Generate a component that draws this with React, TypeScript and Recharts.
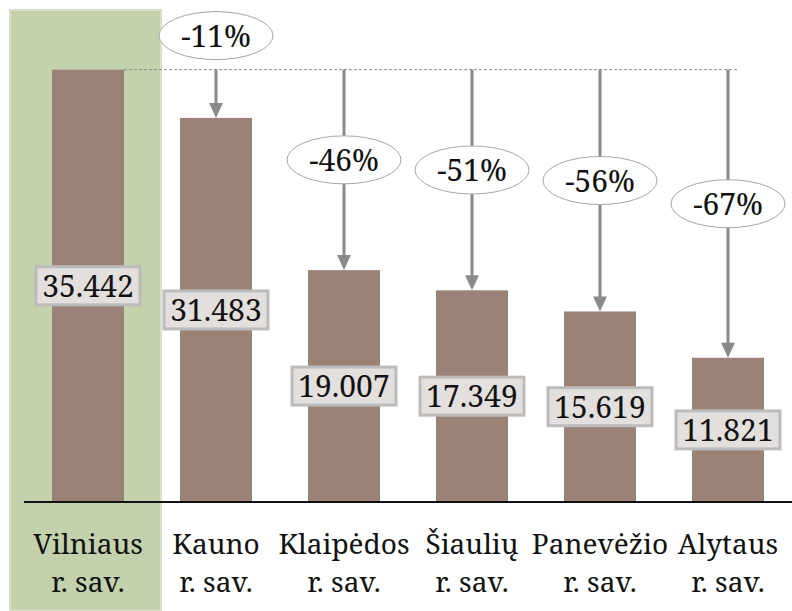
import { Bar, BarChart, ReferenceArea, ReferenceLine, XAxis, YAxis } from "recharts";

const categories = ["Vilniaus", "Kauno", "Klaipėdos", "Šiaulių", "Panevėžio", "Alytaus"];
const values = [35.442, 31.483, 19.007, 17.349, 15.619, 11.821];
const changeLabels = ["", "-11%", "-46%", "-51%", "-56%", "-67%"];
const subLabel = "r. sav.";

const data = categories.map((name, i) => ({ name, value: values[i], change: changeLabels[i] }));
const maxValue = Math.max(...values);

const FONT = "'Noto Serif', 'Liberation Serif', serif";

function BarShape(props: any) {
  const { x, y, width, height, index, payload } = props;
  const bottom = y + height;
  const topY = bottom - (height * maxValue) / payload.value;
  const cx = x + width / 2;
  const midY = y + height / 2;
  const ellipseY = index === 1 ? topY - 34 : (topY + y) / 2 - 10;
  return (
    <g>
      <rect x={x} y={y} width={width} height={height} fill="#9a8376" />
      {index > 0 && (
        <g>
          <line x1={cx} y1={topY} x2={cx} y2={y - 12} stroke="#8a8a8a" strokeWidth={3} />
          <polygon points={`${cx - 7},${y - 15} ${cx + 7},${y - 15} ${cx},${y}`} fill="#8a8a8a" />
          <ellipse cx={cx} cy={ellipseY} rx={57} ry={24} fill="#fff" stroke="#a6a6a6" strokeWidth={1} />
          <text x={cx} y={ellipseY + 11} textAnchor="middle" fontFamily={FONT} style={{ fontFamily: FONT }} fontSize={30} fill="#111">
            {payload.change}
          </text>
        </g>
      )}
      <rect x={cx - 52} y={midY - 19} width={104} height={38} fill="#e3dfdc" stroke="#bcbcbc" strokeWidth={3} />
      <text x={cx} y={midY + 11} textAnchor="middle" fontFamily={FONT} style={{ fontFamily: FONT }} fontSize={30} fill="#111">
        {payload.value.toFixed(3)}
      </text>
    </g>
  );
}

function CategoryTick({ x, y, payload }: any) {
  return (
    <text textAnchor="middle" fontFamily={FONT} style={{ fontFamily: FONT }} fontSize={28} fill="#111">
      <tspan x={x} y={y + 44}>{payload.value}</tspan>
      <tspan x={x} y={y + 82}>{subLabel}</tspan>
    </text>
  );
}

function Highlight(props: any) {
  const { x, y, width } = props;
  return (
    <rect x={x - 14} y={y - 4} width={width + 23} height={611 - (y - 4)} fill="#c3d1ad" stroke="#d7e1c9" strokeWidth={2} />
  );
}

function TopLine(props: any) {
  const { x1, y1, x2, y2 } = props;
  return <line x1={x1 + 36} y1={y1} x2={x2 + 10} y2={y2} stroke="#8f8f8f" strokeWidth={1} strokeDasharray="3 2" />;
}

export default function App() {
  return (
    <div style={{ width: 792, height: 611, background: "#fff", fontFamily: FONT }}>
      <style>{"body{margin:0}"}</style>
      <BarChart width={792} height={611} data={data} margin={{ top: 14, right: 0, left: 24, bottom: 0 }}>
        <ReferenceArea x1={categories[0]} x2={categories[0]} y1={0} y2={40} ifOverflow="visible" shape={<Highlight />} />
        <ReferenceLine
          segment={[
            { x: categories[0], y: maxValue },
            { x: categories[categories.length - 1], y: maxValue },
          ]}
          ifOverflow="visible"
          shape={<TopLine />}
        />
        <YAxis hide domain={[0, 40]} />
        <XAxis
          dataKey="name"
          height={109}
          interval={0}
          tickLine={false}
          axisLine={{ stroke: "#111", strokeWidth: 2 }}
          tick={<CategoryTick />}
        />
        <Bar dataKey="value" barSize={72} shape={<BarShape />} isAnimationActive={false} />
      </BarChart>
    </div>
  );
}
